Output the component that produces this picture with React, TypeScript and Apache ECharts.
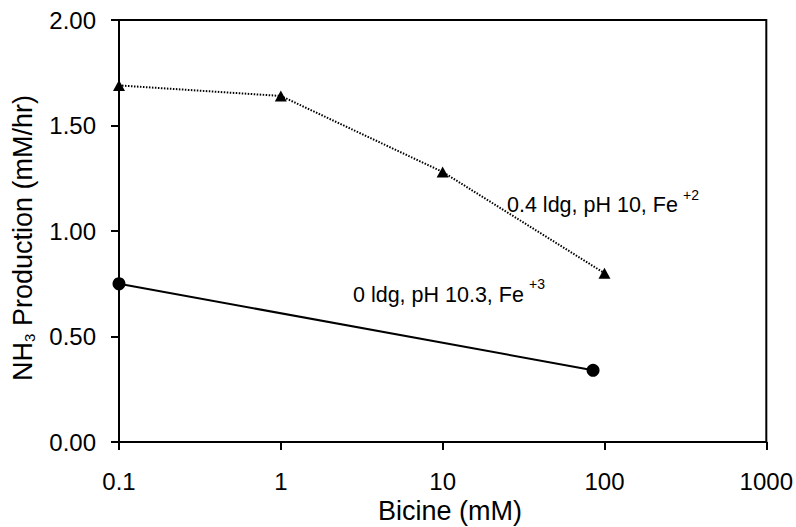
import React, { useEffect, useRef } from "react";
import * as echarts from "echarts";

const bicineTri = [0.1, 1, 10, 100];
const prodTri = [1.69, 1.64, 1.28, 0.8];
const bicineCirc = [0.1, 85];
const prodCirc = [0.75, 0.34];
const yTicks = [0, 0.5, 1, 1.5, 2];
const xTicks = [0.1, 1, 10, 100, 1000];
const xTitle = "Bicine (mM)";
const label1 = "0.4 ldg, pH 10, Fe";
const sup1 = "+2";
const label2 = "0 ldg, pH 10.3, Fe";
const sup2 = "+3";

const FONT = "'Liberation Sans', Arial, sans-serif";

export default function App() {
  const ref = useRef<HTMLDivElement>(null);
  useEffect(() => {
    if (!ref.current) return;
    const chart = echarts.init(ref.current, null, { renderer: "svg" });
    const triData = bicineTri.map((x, i) => [x, prodTri[i]]);
    const circData = bicineCirc.map((x, i) => [x, prodCirc[i]]);
    chart.setOption({
      animation: false,
      backgroundColor: "#fff",
      textStyle: { fontFamily: FONT },
      grid: {
        left: 119,
        right: 29,
        top: 20,
        bottom: 85,
        show: true,
        borderColor: "#000",
        borderWidth: 2,
      },
      xAxis: {
        type: "log",
        logBase: 10,
        min: xTicks[0],
        max: xTicks[xTicks.length - 1],
        axisLine: { lineStyle: { color: "#000", width: 2 } },
        axisTick: { show: true, inside: false, length: 8, lineStyle: { color: "#000", width: 2 } },
        minorTick: { show: false },
        splitLine: { show: false },
        axisLabel: {
          color: "#000",
          fontSize: 24,
          fontFamily: FONT,
          margin: 27,
          formatter: (v: number) => String(Number(v.toPrecision(6))),
        },
      },
      yAxis: {
        type: "value",
        min: yTicks[0],
        max: yTicks[yTicks.length - 1],
        interval: 0.5,
        axisLine: { show: true, lineStyle: { color: "#000", width: 2 } },
        axisTick: { show: true, inside: false, length: 8, lineStyle: { color: "#000", width: 2 } },
        splitLine: { show: false },
        axisLabel: {
          color: "#000",
          fontSize: 24,
          fontFamily: FONT,
          margin: 23,
          formatter: (v: number) => v.toFixed(2),
        },
      },
      series: [
        {
          type: "line",
          data: triData,
          symbol: "triangle",
          symbolSize: [12, 11],
          itemStyle: { color: "#000" },
          lineStyle: { color: "#000", width: 2, type: [1.5, 1.5] },
          z: 3,
        },
        {
          type: "line",
          data: circData,
          symbol: "circle",
          symbolSize: 13,
          itemStyle: { color: "#000" },
          lineStyle: { color: "#000", width: 2, type: "solid" },
          z: 3,
        },
      ],
      graphic: [
        {
          type: "text",
          x: 23,
          y: 238,
          rotation: Math.PI / 2,
          style: {
            text: "{a|NH}{s|3}{a| Production (mM/hr)}",
            align: "center",
            verticalAlign: "middle",
            fill: "#000",
            fontFamily: FONT,
            rich: {
              a: { fontSize: 27, fontFamily: FONT, fill: "#000" },
              s: { fontSize: 15, fontFamily: FONT, fill: "#000", padding: [12, 0, 0, 0] },
            },
          },
        },
        {
          type: "text",
          x: 450,
          y: 511,
          style: { text: xTitle, fontSize: 27, fontFamily: FONT, fill: "#000", align: "center", verticalAlign: "middle" },
        },
        { type: "text", x: 507, y: 205, style: { text: label1, fontSize: 21.5, fontFamily: FONT, fill: "#000", align: "left", verticalAlign: "middle" } },
        { type: "text", x: 683, y: 195, style: { text: sup1, fontSize: 14, fontFamily: FONT, fill: "#000", align: "left", verticalAlign: "middle" } },
        { type: "text", x: 353, y: 295, style: { text: label2, fontSize: 21.5, fontFamily: FONT, fill: "#000", align: "left", verticalAlign: "middle" } },
        { type: "text", x: 529, y: 284, style: { text: sup2, fontSize: 14, fontFamily: FONT, fill: "#000", align: "left", verticalAlign: "middle" } },
      ],
    });
    return () => chart.dispose();
  }, []);
  return (
    <div
      ref={ref}
      style={{ position: "fixed", left: 0, top: 0, width: 796, height: 527 }}
    />
  );
}
